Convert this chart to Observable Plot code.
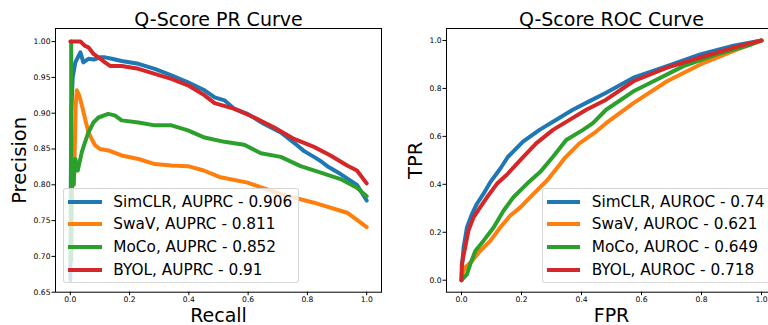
<!DOCTYPE html>
<html><head><meta charset="utf-8">
<script src="https://cdn.jsdelivr.net/npm/d3@7"></script>
<script src="https://cdn.jsdelivr.net/npm/@observablehq/plot@0.6"></script>
<style>
html,body{margin:0;padding:0;background:#fff;}
#wrap{position:relative;width:768px;height:325px;overflow:hidden;font-family:"DejaVu Sans",sans-serif;}
.panel{position:absolute;top:0;}
.legend{position:absolute;background:rgba(255,255,255,0.8);border:1px solid rgba(204,204,204,0.8);border-radius:3px;box-sizing:border-box;}
.row{position:absolute;left:0;height:20px;white-space:nowrap;}
.sw{position:absolute;height:4px;}
.lt{position:absolute;font-size:15.3px;line-height:20px;color:#000;}
</style></head><body><div id="wrap"></div><script>
// ---------- data ----------
const seriesNames = ["SimCLR", "SwaV", "MoCo", "BYOL"];
const seriesColors = ["#1f77b4", "#ff7f0e", "#2ca02c", "#d62728"];
const auprc = ["0.906", "0.811", "0.852", "0.91"];
const auroc = ["0.74", "0.621", "0.649", "0.718"];

const prTitle = "Q-Score PR Curve";
const rocTitle = "Q-Score ROC Curve";
const prXLabel = "Recall", prYLabel = "Precision";
const rocXLabel = "FPR", rocYLabel = "TPR";

const prXTicks = [0, 0.2, 0.4, 0.6, 0.8, 1.0];
const prXTickLabels = ["0.0", "0.2", "0.4", "0.6", "0.8", "1.0"];
const prYTicks = [0.65, 0.70, 0.75, 0.80, 0.85, 0.90, 0.95, 1.00];
const prYTickLabels = ["0.65", "0.70", "0.75", "0.80", "0.85", "0.90", "0.95", "1.00"];
const rocXTicks = [0, 0.2, 0.4, 0.6, 0.8, 1.0];
const rocXTickLabels = ["0.0", "0.2", "0.4", "0.6", "0.8", "1.0"];
const rocYTicks = [0, 0.2, 0.4, 0.6, 0.8, 1.0];
const rocYTickLabels = ["0.0", "0.2", "0.4", "0.6", "0.8", "1.0"];

// PR curves
const simclrRecall = [0, 0.003, 0.008, 0.017, 0.034, 0.044, 0.061, 0.08, 0.1, 0.117, 0.14, 0.173, 0.23, 0.285, 0.341, 0.397, 0.453, 0.487, 0.52, 0.554, 0.598, 0.654, 0.71, 0.766, 0.789, 0.822, 0.845, 0.867, 0.912, 0.967, 1.0];
const simclrPrecision = [0.667, 0.9, 0.95, 0.971, 0.985, 0.971, 0.976, 0.975, 0.978, 0.978, 0.976, 0.973, 0.969, 0.962, 0.953, 0.943, 0.932, 0.922, 0.918, 0.906, 0.899, 0.885, 0.873, 0.855, 0.847, 0.839, 0.833, 0.826, 0.815, 0.80, 0.778];
const swavRecall = [0.012, 0.015, 0.018, 0.022, 0.03, 0.039, 0.05, 0.061, 0.072, 0.084, 0.1, 0.128, 0.173, 0.23, 0.285, 0.341, 0.397, 0.45, 0.503, 0.598, 0.71, 0.822, 0.934, 1.0];
const swavPrecision = [0.80, 0.85, 0.91, 0.932, 0.925, 0.911, 0.892, 0.874, 0.864, 0.855, 0.85, 0.848, 0.841, 0.836, 0.829, 0.827, 0.826, 0.82, 0.811, 0.803, 0.787, 0.775, 0.761, 0.741];
const mocoRecall = [0.003, 0.003, 0.006, 0.01, 0.017, 0.025, 0.039, 0.05, 0.061, 0.078, 0.095, 0.128, 0.15, 0.173, 0.23, 0.285, 0.341, 0.397, 0.453, 0.52, 0.587, 0.643, 0.71, 0.777, 0.845, 0.912, 0.967, 1.0];
const mocoPrecision = [1.0, 0.694, 0.82, 0.80, 0.836, 0.82, 0.846, 0.86, 0.873, 0.887, 0.894, 0.899, 0.897, 0.89, 0.887, 0.883, 0.883, 0.876, 0.866, 0.86, 0.856, 0.844, 0.839, 0.826, 0.817, 0.808, 0.796, 0.784];
const byolRecall = [0, 0.034, 0.05, 0.061, 0.078, 0.095, 0.117, 0.134, 0.173, 0.23, 0.285, 0.341, 0.397, 0.453, 0.487, 0.554, 0.621, 0.688, 0.755, 0.822, 0.878, 0.934, 0.967, 1.0];
const byolPrecision = [1.0, 1.0, 0.994, 0.992, 0.983, 0.978, 0.971, 0.966, 0.966, 0.962, 0.955, 0.948, 0.939, 0.925, 0.914, 0.906, 0.894, 0.880, 0.864, 0.853, 0.841, 0.827, 0.82, 0.802];

// ROC curves
const simclrFpr = [0, 0.003, 0.007, 0.018, 0.035, 0.051, 0.073, 0.096, 0.129, 0.155, 0.205, 0.26, 0.316, 0.371, 0.427, 0.482, 0.573, 0.685, 0.796, 0.907, 1.0];
const simclrTpr = [0, 0.08, 0.136, 0.22, 0.276, 0.318, 0.36, 0.409, 0.465, 0.515, 0.578, 0.627, 0.669, 0.711, 0.747, 0.782, 0.845, 0.893, 0.942, 0.978, 1.0];
const swavFpr = [0, 0.004, 0.012, 0.035, 0.062, 0.096, 0.129, 0.162, 0.196, 0.24, 0.285, 0.329, 0.343, 0.393, 0.449, 0.482, 0.573, 0.685, 0.796, 0.907, 1.0];
const swavTpr = [0, 0.03, 0.052, 0.08, 0.122, 0.164, 0.22, 0.269, 0.304, 0.36, 0.416, 0.485, 0.508, 0.571, 0.62, 0.655, 0.739, 0.83, 0.9, 0.957, 1.0];
const mocoFpr = [0, 0.018, 0.029, 0.046, 0.073, 0.107, 0.14, 0.173, 0.218, 0.262, 0.305, 0.349, 0.405, 0.438, 0.482, 0.573, 0.64, 0.74, 0.851, 0.962, 1.0];
const mocoTpr = [0, 0.024, 0.066, 0.122, 0.164, 0.22, 0.29, 0.346, 0.402, 0.451, 0.515, 0.585, 0.627, 0.655, 0.711, 0.788, 0.83, 0.893, 0.942, 0.982, 1.0];
const byolFpr = [0, 0.001, 0.012, 0.023, 0.04, 0.062, 0.085, 0.118, 0.151, 0.199, 0.249, 0.305, 0.36, 0.416, 0.482, 0.573, 0.685, 0.796, 0.907, 1.0];
const byolTpr = [0, 0.066, 0.136, 0.206, 0.262, 0.304, 0.346, 0.402, 0.44, 0.505, 0.571, 0.627, 0.669, 0.711, 0.753, 0.83, 0.887, 0.929, 0.97, 1.0];

// ---------- build ----------
const zip = (xs, ys) => xs.map((x, i) => ({x, y: ys[i]}));
const prData = [zip(simclrRecall, simclrPrecision), zip(swavRecall, swavPrecision), zip(mocoRecall, mocoPrecision), zip(byolRecall, byolPrecision)];
const rocData = [zip(simclrFpr, simclrTpr), zip(swavFpr, swavTpr), zip(mocoFpr, mocoTpr), zip(byolFpr, byolTpr)];
const fmt = (ticks, labels) => d => labels[ticks.findIndex(t => Math.abs(t - d) < 1e-9)];

function panel({width, marginLeft, marginRight, xDomain, yDomain, xTicks, xLabels, yTicks, yLabels, data, title, xLabel, yLabel, yLabelDx}) {
  return Plot.plot({
    width, height: 325,
    marginLeft, marginRight, marginTop: 28, marginBottom: 33.3,
    style: {fontFamily: "DejaVu Sans", fontSize: "7.6px", color: "#000", background: "transparent", overflow: "visible"},
    x: {domain: xDomain},
    y: {domain: yDomain},
    marks: [
      ...data.map((d, i) => Plot.line(d, {x: "x", y: "y", stroke: seriesColors[i], strokeWidth: 4, clip: true})),
      Plot.frame({stroke: "#000", strokeWidth: 1}),
      Plot.axisX({ticks: xTicks, tickFormat: fmt(xTicks, xLabels), tickSize: 3.5, tickPadding: 1, label: null, fontSize: 7.6}),
      Plot.axisY({ticks: yTicks, tickFormat: fmt(yTicks, yLabels), tickSize: 3.5, tickPadding: 1.5, label: null, fontSize: 7.6}),
      Plot.text([title], {text: d => d, frameAnchor: "top", lineAnchor: "bottom", dy: -3, fontSize: 19, fill: "#000"}),
      Plot.text([xLabel], {text: d => d, frameAnchor: "bottom", lineAnchor: "bottom", dy: 29.3, fontSize: 19, fill: "#000"}),
      Plot.text([yLabel], {text: d => d, frameAnchor: "left", rotate: -90, lineAnchor: "middle", textAnchor: "middle", dx: yLabelDx, fontSize: 19.5, fill: "#000"})
    ]
  });
}

const wrap = document.getElementById("wrap");
const left = panel({width: 384, marginLeft: 55, marginRight: 3, xDomain: [-0.05, 1.05], yDomain: [0.65, 1.0183],
  xTicks: prXTicks, xLabels: prXTickLabels, yTicks: prYTicks, yLabels: prYTickLabels, data: prData,
  title: prTitle, xLabel: prXLabel, yLabel: prYLabel, yLabelDx: -35.5});
left.classList.add("panel"); left.style.left = "0px";
wrap.appendChild(left);
const right = panel({width: 392, marginLeft: 62, marginRight: 0, xDomain: [-0.05, 1.05], yDomain: [-0.05, 1.05],
  xTicks: rocXTicks, xLabels: rocXTickLabels, yTicks: rocYTicks, yLabels: rocYTickLabels, data: rocData,
  title: rocTitle, xLabel: rocXLabel, yLabel: rocYLabel, yLabelDx: -31});
right.classList.add("panel"); right.style.left = "384px";
wrap.appendChild(right);

function legend(x, w, metric, values) {
  const box = document.createElement("div");
  box.className = "legend";
  box.style.left = x + "px"; box.style.top = "188px"; box.style.width = w + "px"; box.style.height = "95px";
  seriesNames.forEach((name, i) => {
    const row = document.createElement("div");
    row.className = "row";
    row.style.top = (2.7 + i * 22.67) + "px";
    const sw = document.createElement("div");
    sw.className = "sw"; sw.style.left = "4px"; sw.style.width = "33.5px"; sw.style.top = "8px";
    sw.style.background = seriesColors[i];
    const t = document.createElement("div");
    t.className = "lt"; t.style.left = "49px"; t.style.top = "0px";
    t.textContent = `${name}, ${metric} - ${values[i]}`;
    row.appendChild(sw); row.appendChild(t);
    box.appendChild(row);
  });
  wrap.appendChild(box);
}
legend(63.3, 236, "AUPRC", auprc);
legend(541.7, 240, "AUROC", auroc);
</script></body></html>
